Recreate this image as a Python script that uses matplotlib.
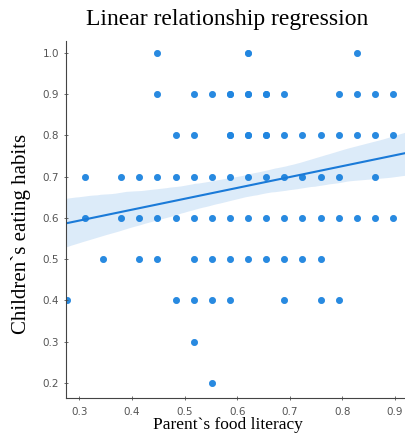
import numpy as np
import matplotlib
matplotlib.use('Agg')
import matplotlib.pyplot as plt
import seaborn as sns

# literacy scores are k/29, eating habit scores in steps of 0.1
rows_y = [1.0, 0.9, 0.8, 0.7, 0.6, 0.5, 0.4, 0.3, 0.2]
rows_k = [
    [13, 18, 24],
    [13, 15, 16, 17, 18, 19, 20, 23, 24, 25, 26],
    [14, 15, 17, 18, 19, 20, 21, 22, 23, 24, 25, 26],
    [9, 11, 12, 13, 14, 15, 16, 17, 18, 19, 20, 21, 22, 23, 25],
    [9, 11, 12, 13, 14, 15, 16, 17, 18, 19, 20, 21, 22, 23, 24, 25, 26],
    [10, 12, 13, 15, 16, 17, 18, 19, 20, 21, 22],
    [8, 14, 15, 16, 17, 20, 22, 23],
    [15],
    [16],
]
# how many respondents share each point (overlapping dots)
rows_n = [
    [2, 3, 2],
    [2, 2, 2, 4, 4, 4, 2, 2, 2, 2, 2],
    [2, 2, 4, 4, 4, 2, 2, 2, 2, 2, 2, 2],
    [2] * 15,
    [2] * 17,
    [2] * 11,
    [2] * 8,
    [2],
    [2],
]

x = []
y = []
for yy, ks, ns in zip(rows_y, rows_k, rows_n):
    for k, n in zip(ks, ns):
        x += [k / 29] * n
        y += [yy] * n
x = np.array(x)
y = np.array(y)

xticks = [0.3, 0.4, 0.5, 0.6, 0.7, 0.8, 0.9]
yticks = [0.2, 0.3, 0.4, 0.5, 0.6, 0.7, 0.8, 0.9, 1.0]

fig = plt.figure(figsize=(4.06, 4.36), dpi=100)
ax = fig.add_axes([0.1626, 0.087, 0.8374, 0.819])

sns.regplot(x=x, y=y, ax=ax, color='#2186e0', truncate=False,
            scatter_kws={'s': 24, 'alpha': 0.82, 'linewidths': 0},
            line_kws={'linewidth': 1.5, 'color': '#1a7ad8'})

ax.set_xlim(0.2745, 0.921)
ax.set_ylim(0.163, 1.029)
ax.set_xticks(xticks)
ax.set_yticks(yticks)
ax.tick_params(labelsize=7.5, colors='#555555', length=3, direction='inout', width=0.6)
ax.tick_params(axis='x', pad=5)
ax.spines['top'].set_visible(False)
ax.spines['right'].set_visible(False)
for s in ['left', 'bottom']:
    ax.spines[s].set_color('#444444')
    ax.spines[s].set_linewidth(0.8)

fig.text(0.559, 1 - 19 / 436, 'Linear relationship regression', fontsize=17,
         family='Liberation Serif', ha='center', va='center')
ax.set_xlabel('Parent`s food literacy', fontsize=12.5, family='Liberation Serif')
ax.set_ylabel('Children`s eating habits', fontsize=15, family='Liberation Serif')
ax.xaxis.set_label_coords((228 - 66) / 340, -(425 - 398) / 357)
ax.yaxis.set_label_coords(-(66 - 21) / 340, (398 - 234) / 357)
ax.xaxis.label.set_va('center')
ax.yaxis.label.set_va('center')

fig.savefig('out.png', dpi=100)
